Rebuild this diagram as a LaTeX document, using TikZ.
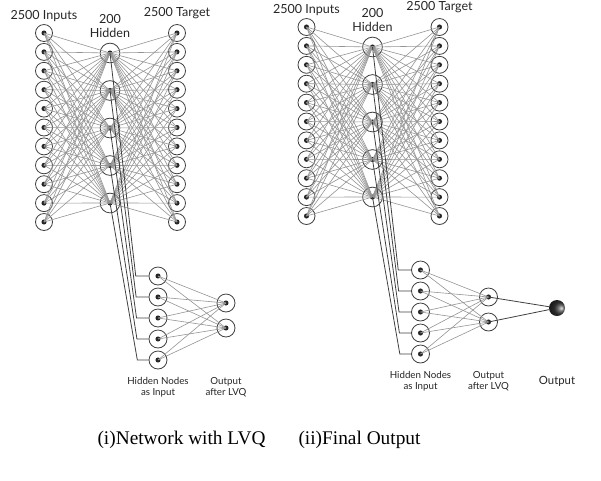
\documentclass[tikz,border=0pt]{standalone}
\usepackage{fontspec}
\setmainfont{Liberation Serif}
\newfontfamily\lblfont{Lato}
\usetikzlibrary{positioning}
\tikzset{
unit/.style={circle,draw=black!75,line width=0.6pt,minimum size=12.75pt,inner sep=0pt,
    path picture={\fill[black!85] (path picture bounding box.center) circle (1.9pt);}},
hid/.style={unit,minimum size=14.8pt},
lvq/.style={unit,minimum size=13.5pt},
outball/.style={circle,minimum size=12pt,inner sep=0pt,shading=ball,ball color=black!75,shading angle=-135},
wire/.style={draw=black!42,line width=0.45pt},
link/.style={draw=black!75,line width=0.6pt},
lbl/.style={font=\lblfont\fontsize{9.4}{10.5}\selectfont,text=black!85,align=center,inner sep=0pt},
sub/.style={font=\lblfont\fontsize{7.3}{8.2}\selectfont,text=black!85,align=center,inner sep=0pt}
}

\begin{document}
\begin{tikzpicture}[x=0.75pt,y=-0.75pt]
\useasboundingbox (0,0) rectangle (601,480);

% two panels, the second one shifted
\foreach \p/\dx/\dy in {a/0/0,b/262.5/-6}{
\begin{scope}[shift={(\dx,\dy)}]
\foreach \i in {1,...,11}{
  \node[unit] (\p-in\i) at (44,{33+(\i-1)*18.9}) {};
  \node[unit] (\p-tg\i) at (177,{33+(\i-1)*18.9}) {};
}
\foreach \j in {1,...,5}{
  \node[hid] (\p-hd\j) at (110,{53+(\j-1)*37.5}) {};
  \node[lvq] (\p-hn\j) at (158,{276+(\j-1)*21}) {};
}
\node[lvq] (\p-lv1) at (226,303) {};
\node[lvq] (\p-lv2) at (226,328) {};

% autoencoder wires
\foreach \i in {1,...,11}
  \foreach \j in {1,...,5}
    \draw[wire] (\p-in\i.center) -- (\p-hd\j.center) -- (\p-tg\i.center);

% hidden nodes fed to LVQ
\foreach \j in {1,...,5}{
  \draw[link] (\p-hd\j.center) -- ([xshift={-17pt+0.3pt*\j}]\p-hn\j.center) -- (\p-hn\j);
  \foreach \k in {1,2}
    \draw[wire] (\p-hn\j.center) -- (\p-lv\k.center);
}

\node[lbl,above=2pt of \p-in1] {2500 Inputs};
\node[lbl,above=3.5pt of \p-hd1] {200\\Hidden};
\node[lbl,above=3.5pt of \p-tg1] {2500 Target};
\node[sub,below=6pt of \p-hn5] (\p-hnlbl) {Hidden Nodes\\as Input};
\node[sub,anchor=north] at (\p-lv1 |- \p-hnlbl.north) {Output\\after LVQ};
\end{scope}
}

% final output
\node[outball] (out) at (557,308) {};
\draw[link] (b-lv1.center) -- (out);
\draw[link] (b-lv2.center) -- (out);
\node[lbl,font=\lblfont\fontsize{8.5}{9.5}\selectfont] at (out |- b-hnlbl) {Output};

\node[font=\fontsize{14.5}{16}\selectfont] (capa) at (181.5,440) {(i)Network with LVQ};
\node[font=\fontsize{14.5}{16}\selectfont] (capb) at (359.5,440) {(ii)Final Output};
\end{tikzpicture}
\end{document}
